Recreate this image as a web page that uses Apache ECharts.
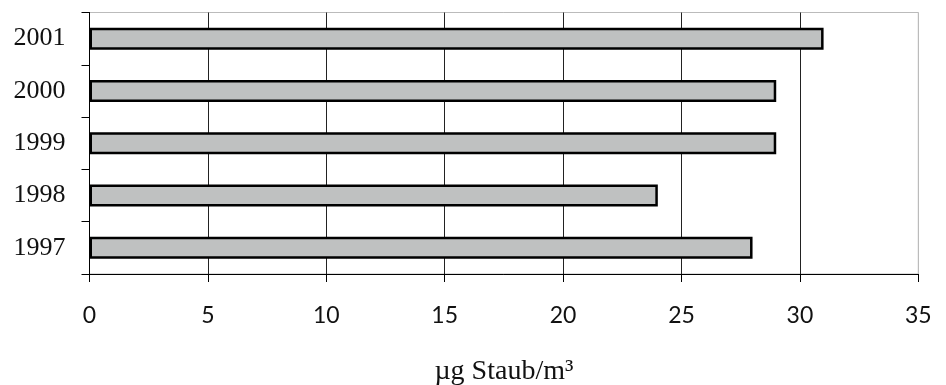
<!DOCTYPE html>
<html>
<head>
<meta charset="utf-8">
<script src="https://cdn.jsdelivr.net/npm/echarts@6/dist/echarts.min.js"></script>
<style>
html,body{margin:0;padding:0;background:#fff;}
#chart{width:946px;height:385px;}
</style>
</head>
<body>
<div id="chart"></div>
<script>
const categories = ['1997', '1998', '1999', '2000', '2001'];
const values = [28, 24, 29, 29, 31];
const xTicks = { min: 0, max: 35, interval: 5 };
const axisTitle = 'µg Staub/m³';

const chart = echarts.init(document.getElementById('chart'));
chart.setOption({
  animation: false,
  backgroundColor: '#fff',
  grid: {
    left: 89.5, right: 27.7, top: 12.5, bottom: 111,
    containLabel: false,
    outerBoundsMode: 'none',
    show: true, borderColor: '#bbbbbb', borderWidth: 1, backgroundColor: 'transparent'
  },
  xAxis: {
    type: 'value',
    min: xTicks.min, max: xTicks.max, interval: xTicks.interval,
    name: axisTitle,
    nameLocation: 'middle',
    nameGap: 84,
    nameTextStyle: { fontFamily: 'Liberation Serif', fontSize: 28, color: '#111' },
    axisLine: { show: true, lineStyle: { color: '#000', width: 1 } },
    axisTick: { show: true, length: 8, lineStyle: { color: '#000' } },
    axisLabel: { margin: 30, fontFamily: 'Lato', fontSize: 23, color: '#111' },
    splitLine: { show: true, lineStyle: { color: ['#222','#222','#222','#222','#222','#222','#222','#bbbbbb'], width: 1 } }
  },
  yAxis: {
    type: 'category',
    data: categories,
    axisLine: { show: true, lineStyle: { color: '#000', width: 1 } },
    axisTick: { show: true, length: 8, alignWithLabel: false, lineStyle: { color: '#000' } },
    axisLabel: { margin: 24, fontFamily: 'Liberation Serif', fontSize: 26, color: '#111' },
    splitLine: { show: false }
  },
  series: [{
    type: 'bar',
    data: values,
    barWidth: '42%',
    itemStyle: { color: '#bfc1c1', borderColor: '#000', borderWidth: 2.5 }
  }]
});
</script>
</body>
</html>
